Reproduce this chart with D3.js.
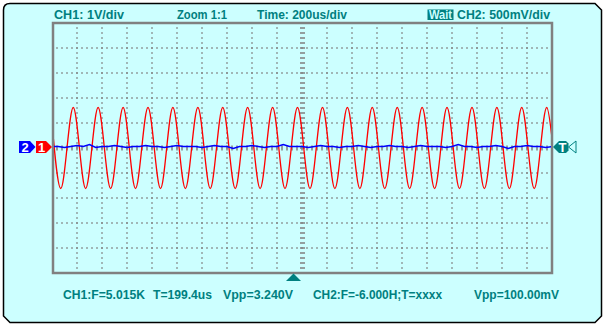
<!DOCTYPE html>
<html>
<head>
<meta charset="utf-8">
<script src="https://cdn.jsdelivr.net/npm/d3@7"></script>
<style>
  body { margin: 0; background: #fff; }
  text { font-family: "Liberation Sans", Arial, sans-serif; font-weight: bold; font-size: 12px; }
  text.mark { font-size: 13px; }
</style>
</head>
<body>
<svg width="605" height="330"></svg>
<script>
// CH1 trace: extrema, [time us, volts]
const ch1Samples = [
  [-2000, 0.97], [-1930, -1.62], [-1830, 1.62], [-1731, -1.62], [-1631, 1.62],
  [-1531, -1.62], [-1431, 1.62], [-1332, -1.62], [-1232, 1.62], [-1132, -1.62],
  [-1033, 1.62], [-933, -1.62], [-833, 1.62], [-734, -1.62], [-634, 1.62],
  [-534, -1.62], [-435, 1.62], [-335, -1.62], [-235, 1.62], [-136, -1.62],
  [-36, 1.62], [64, -1.62], [164, 1.62], [263, -1.62], [363, 1.62],
  [463, -1.62], [562, 1.62], [662, -1.62], [762, 1.62], [861, -1.62],
  [961, 1.62], [1061, -1.62], [1160, 1.62], [1260, -1.62], [1360, 1.62],
  [1459, -1.62], [1559, 1.62], [1659, -1.62], [1758, 1.62], [1858, -1.62],
  [1958, 1.62], [2000, 0.40]
]
// CH2 trace: mV, one sample every 50us from -2000us
const ch2Step = 50
const ch2Values = [
  30, 30, 10, 30, 50, 30, 70, 10, 30, 30, 50, 30, 10, 30, 30, 50,
  30, 30, 10, 30, 50, 30, 30, 30, 10, 30, 50, 30, 30, -10, 30, 30,
  50, 30, 10, 30, 30, 70, 30, 30, 30, 10, 30, 50, 30, 30, 10, 30,
  30, 50, 30, 10, 30, 30, 50, 30, 30, 10, 30, 50, 30, 30, 30, 10,
  30, 70, 30, 30, 10, 30, 30, 50, 30, -10, 30, 30, 50, 30, 30, 10, 30
]
const topLabels = ["CH1: 1V/div", "Zoom 1:1", "Time: 200us/div", "Wait", "CH2: 500mV/div"]
const bottomLabels = ["CH1:F=5.015K", "T=199.4us", "Vpp=3.240V", "CH2:F=-6.000H;T=xxxx", "Vpp=100.00mV"]

const teal = "#008080", cyan = "#ccffff", gray = "#808080"
const svg = d3.select("svg")

// panel
svg.append("path")
  .attr("d", "M3.5,10 Q3.5,3.5 10,3.5 L595,3.5 L601.5,10 L601.5,316 L595,322.5 L10,322.5 L3.5,316 Z")
  .attr("fill", cyan).attr("stroke", "#000").attr("stroke-width", 1.5)

const x = d3.scaleLinear().domain([-2000, 2000]).range([52, 552])
const y1 = d3.scaleLinear().domain([-5, 5]).range([273, 23])
const y2 = d3.scaleLinear().domain([-2500, 2500]).range([273, 23])

// dotted grid
const grid = svg.append("g").attr("fill", gray)
const gx = d3.range(-1800, 2000, 200).filter(d => d !== 0)
const gy = d3.range(-4, 5, 1).filter(d => d !== 0)
gx.forEach(t => {
  grid.selectAll(null).data(d3.range(28, 272, 5)).enter().append("rect")
    .attr("x", x(t) - 0.75).attr("y", d => d - 0.75).attr("width", 1.5).attr("height", 1.5)
})
gy.forEach(v => {
  grid.selectAll(null).data(d3.range(57, 552, 5)).enter().append("rect")
    .attr("x", d => d - 0.75).attr("y", y1(v) - 0.75).attr("width", 1.5).attr("height", 1.5)
})
// center axes with ticks
const cx = x(0), cy = y1(0)
grid.selectAll(null).data(d3.range(28, 272, 5)).enter().append("rect")
  .attr("x", cx - 2).attr("y", d => d - 0.75).attr("width", 5).attr("height", 1.5)
grid.selectAll(null).data(d3.range(57, 552, 5)).enter().append("rect")
  .attr("x", d => d - 0.75).attr("y", cy - 2.5).attr("width", 1.5).attr("height", 5)

// frame
svg.append("rect").attr("x", 53).attr("y", 23).attr("width", 499).attr("height", 250)
  .attr("fill", "none").attr("stroke", gray).attr("stroke-width", 2.5)

svg.append("clipPath").attr("id", "plot").append("rect")
  .attr("x", 54).attr("y", 24).attr("width", 497).attr("height", 248)

// CH1
svg.append("path").datum(ch1Samples)
  .attr("clip-path", "url(#plot)")
  .attr("fill", "none").attr("stroke", "#ff0000").attr("stroke-width", 1.3)
  .attr("d", d3.line().x(d => x(d[0])).y(d => y1(d[1])).curve(d3.curveMonotoneX))

// CH2
svg.append("path").datum(ch2Values)
  .attr("clip-path", "url(#plot)")
  .attr("fill", "none").attr("stroke", "#0000ff").attr("stroke-width", 1.5)
  .attr("d", d3.line().x((d, i) => x(-2000 + i * ch2Step)).y(d => y2(d)))

// channel markers
const mk = svg.append("g")
mk.append("path").attr("d", "M19,141 L30,141 L35.5,147 L30,153 L19,153 Z").attr("fill", "#0000ff")
mk.append("text").attr("class", "mark").attr("x", 25).attr("y", 152).attr("text-anchor", "middle").attr("fill", "#fff").text("2")
mk.append("path").attr("d", "M36,141 L46,141 L52,147 L46,153 L36,153 Z").attr("fill", "#ff0000")
mk.append("text").attr("class", "mark").attr("x", 41.5).attr("y", 152).attr("text-anchor", "middle").attr("fill", "#fff").text("1")
mk.append("path").attr("d", "M553,147 L559,141 L566,141 L568.5,143.5 L568.5,150.5 L566,153 L559,153 Z").attr("fill", teal)
mk.append("text").attr("class", "mark").attr("x", 562.5).attr("y", 152).attr("text-anchor", "middle").attr("fill", "#fff").text("T")
mk.append("path").attr("d", "M576,141 L568.5,147 L576,153 Z").attr("fill", "none").attr("stroke", teal).attr("stroke-width", 1)
mk.append("path").attr("d", "M286,281 L293.5,273.5 L301,281 Z").attr("fill", teal)

// top status line
const topPos = [[54, 70], [177, 50], [257, 90], [429, 23], [457, 93]]
svg.append("rect").attr("x", 427.5).attr("y", 9.5).attr("width", 26).attr("height", 10.5).attr("fill", teal)
svg.selectAll(".top").data(topLabels).enter().append("text")
  .attr("class", "top")
  .attr("x", (d, i) => topPos[i][0]).attr("y", 19)
  .attr("textLength", (d, i) => topPos[i][1]).attr("lengthAdjust", "spacingAndGlyphs")
  .attr("fill", d => d === "Wait" ? cyan : teal)
  .text(d => d)

// bottom measurements
const botPos = [[63, 82], [153, 59], [223, 70], [313, 129], [474, 85]]
svg.selectAll(".bot").data(bottomLabels).enter().append("text")
  .attr("class", "bot")
  .attr("x", (d, i) => botPos[i][0]).attr("y", 298.5)
  .attr("textLength", (d, i) => botPos[i][1]).attr("lengthAdjust", "spacingAndGlyphs")
  .attr("fill", teal)
  .text(d => d)
</script>
</body>
</html>
